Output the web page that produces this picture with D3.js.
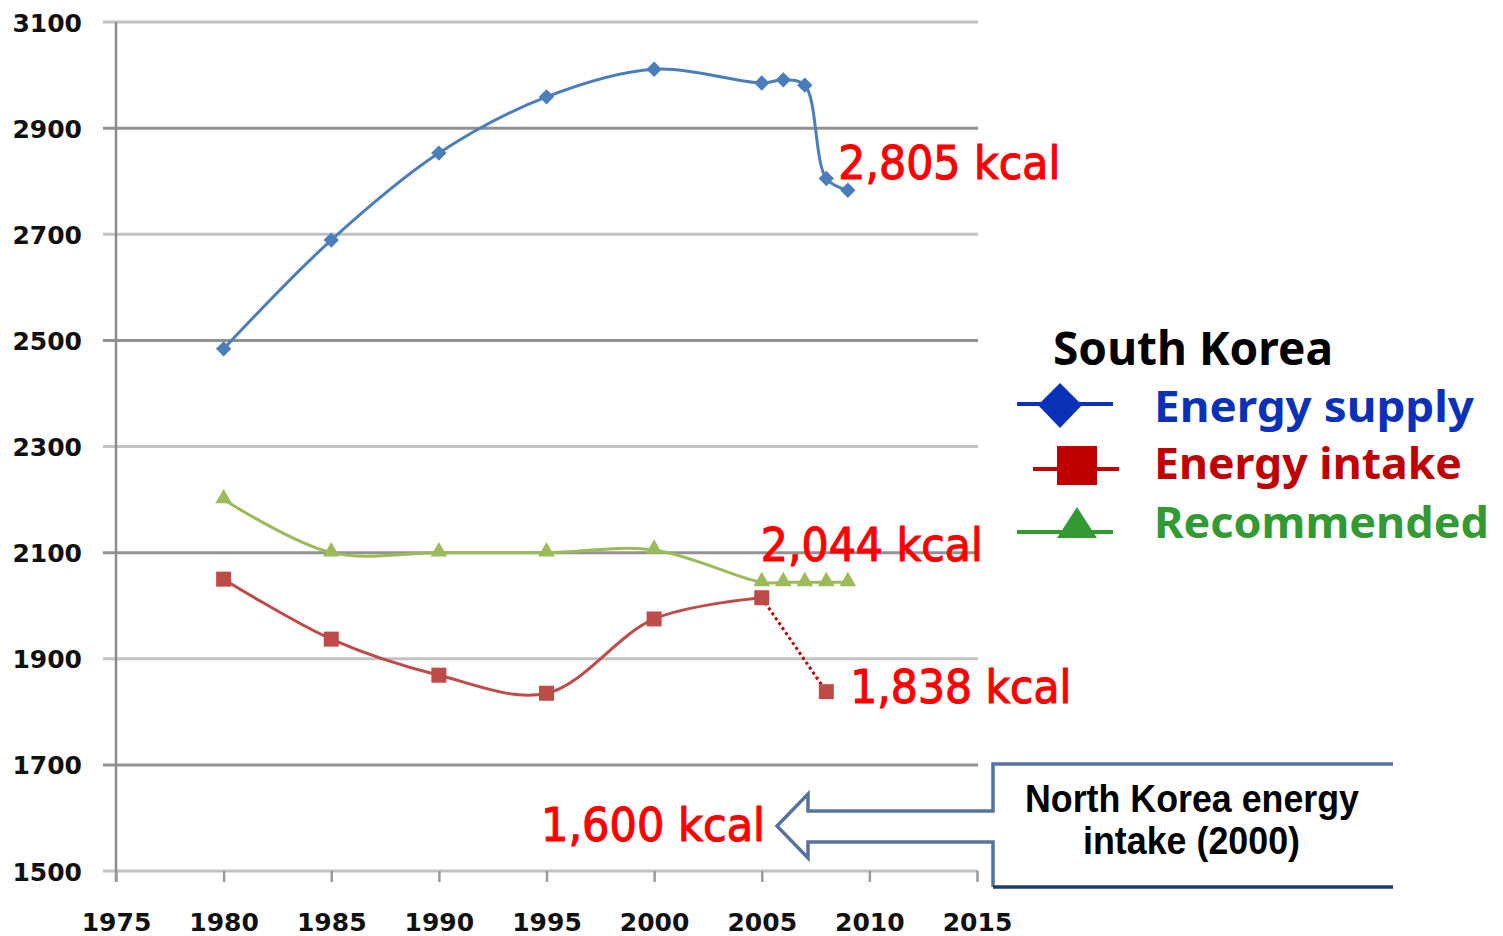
<!DOCTYPE html>
<html>
<head>
<meta charset="utf-8">
<script src="https://cdn.jsdelivr.net/npm/d3@7"></script>
<style>
  body { margin: 0; background: #fff; }
  svg { display: block; }
</style>
</head>
<body>
<div id="chart"></div>
<script>
// data
var supplyYears  = [1980, 1985, 1990, 1995, 2000, 2005, 2006, 2007, 2008, 2009];
var supplyValues = [2484, 2689, 2853, 2959, 3011, 2985, 2991, 2981, 2805, 2783];

var intakeYears  = [1980, 1985, 1990, 1995, 2000, 2005];
var intakeValues = [2050, 1937, 1869, 1835, 1975, 2015];
// dotted estimate segment
var intakeEstYears  = [2005, 2008];
var intakeEstValues = [2015, 1838];

var recYears  = [1980, 1985, 1990, 1995, 2000, 2005, 2006, 2007, 2008, 2009];
var recValues = [2200, 2100, 2100, 2100, 2105, 2044, 2044, 2044, 2044, 2044];

var xTicks = [1975, 1980, 1985, 1990, 1995, 2000, 2005, 2010, 2015];
var yTicks = [1500, 1700, 1900, 2100, 2300, 2500, 2700, 2900, 3100];

var legendNames = ["Energy supply", "Energy intake", "Recommended"];
var northKoreaLines = ["North Korea energy", "intake (2000)"];

// colours
var supplyColor = "#4a7ebb",
    intakeColor = "#be4b48",
    recColor = "#9bbb59";

var width = 1503, height = 936;

var svg = d3.select("#chart").append("svg")
    .attr("width", width)
    .attr("height", height);

// scales
var x = d3.scaleLinear().domain([1975, 2015]).range([116, 977]);
var y = d3.scaleLinear().domain([1500, 3100]).range([871, 22]);

// grid lines
svg.append("g")
    .selectAll("line")
    .data(yTicks)
    .enter().append("line")
    .attr("x1", 103)
    .attr("x2", 978)
    .attr("y1", function(d) { return y(d); })
    .attr("y2", function(d) { return y(d); })
    .style("stroke", function(d, i) { return i % 2 === 0 ? "#c2c2c2" : "#919191"; })
    .style("stroke-width", 3);

// y axis
var yAxis = svg.append("g")
    .attr("transform", "translate(116,0)")
    .call(d3.axisLeft(y).tickValues(yTicks).tickSize(13).tickFormat(d3.format("d")));
yAxis.select(".domain").style("stroke", "#8c8c8c").style("stroke-width", 2.5)
    .attr("d", "M0," + y(3100) + "V" + (y(1500) + 11));
yAxis.selectAll(".tick line").style("stroke", "none");
yAxis.selectAll("text")
    .attr("x", -34)
    .attr("dy", "0.36em")
    .style("font", "bold 25px 'DejaVu Sans'")
    .style("fill", "#111");

// x axis
var xAxis = svg.append("g")
    .attr("transform", "translate(0," + y(1500) + ")")
    .call(d3.axisBottom(x).tickValues(xTicks).tickSize(11).tickFormat(d3.format("d")));
xAxis.select(".domain").remove();
xAxis.selectAll(".tick line").style("stroke", "#9a9a9a").style("stroke-width", 2.5);
xAxis.selectAll("text")
    .attr("y", 51)
    .attr("dy", "0.36em")
    .style("font", "bold 25px 'DejaVu Sans'")
    .style("fill", "#111");

// lines
var line = d3.line()
    .x(function(d) { return x(d[0]); })
    .y(function(d) { return y(d[1]); })
    .curve(d3.curveCatmullRom.alpha(0.5));

var supplyData = d3.zip(supplyYears, supplyValues);
var intakeData = d3.zip(intakeYears, intakeValues);
var intakeEst = d3.zip(intakeEstYears, intakeEstValues);
var recData = d3.zip(recYears, recValues);

svg.append("path").datum(recData)
    .attr("d", line)
    .style("fill", "none").style("stroke", recColor).style("stroke-width", 3);

svg.append("path").datum(intakeData)
    .attr("d", line)
    .style("fill", "none").style("stroke", intakeColor).style("stroke-width", 3);

svg.append("path").datum(intakeEst)
    .attr("d", d3.line().x(function(d) { return x(d[0]); }).y(function(d) { return y(d[1]); }))
    .style("fill", "none").style("stroke", "#c00000").style("stroke-width", 3)
    .style("stroke-dasharray", "3,3");

svg.append("path").datum(supplyData)
    .attr("d", line)
    .style("fill", "none").style("stroke", supplyColor).style("stroke-width", 3);

// markers
svg.selectAll(".rec-pt")
    .data(recData)
    .enter().append("path")
    .attr("class", "rec-pt")
    .attr("transform", function(d) { return "translate(" + x(d[0]) + "," + (y(d[1]) - 1) + ")"; })
    .attr("d", d3.symbol().type(d3.symbolTriangle).size(120))
    .style("fill", recColor);

svg.selectAll(".intake-pt")
    .data(intakeData.concat([intakeEst[1]]))
    .enter().append("rect")
    .attr("class", "intake-pt")
    .attr("x", function(d) { return x(d[0]) - 7.5; })
    .attr("y", function(d) { return y(d[1]) - 7.5; })
    .attr("width", 15)
    .attr("height", 15)
    .style("fill", intakeColor);

svg.selectAll(".supply-pt")
    .data(supplyData)
    .enter().append("path")
    .attr("class", "supply-pt")
    .attr("transform", function(d) { return "translate(" + x(d[0]) + "," + y(d[1]) + ")"; })
    .attr("d", d3.symbol().type(d3.symbolDiamond2).size(150))
    .style("fill", supplyColor);

// red value labels
function redLabel(tx, ty, txt, len) {
    svg.append("text")
        .attr("x", tx)
        .attr("y", ty)
        .attr("textLength", len)
        .attr("lengthAdjust", "spacingAndGlyphs")
        .style("font", "46px 'DejaVu Sans'")
        .style("fill", "#ff0000")
        .style("stroke", "#ff0000")
        .style("stroke-width", 1.2)
        .text(txt);
}
redLabel(x(2008) + 12, y(supplyValues[8]), "2,805 kcal", 222);
redLabel(x(2005) - 1, y(recValues[5]) - 21, "2,044 kcal", 222);
redLabel(x(2008) + 24, y(intakeEstValues[1]) + 11, "1,838 kcal", 221);
redLabel(541, 841, "1,600 kcal", 224);

// North Korea callout
svg.append("path")
    .attr("d", "M1393,764 L993,764 L993,811 L808,811 L808,794 L777,826 L808,858 L808,842 L993,842 L993,887")
    .style("fill", "none")
    .style("stroke", "#56739b")
    .style("stroke-width", 3.5);
svg.append("line")
    .attr("x1", 993).attr("x2", 1393)
    .attr("y1", 887).attr("y2", 887)
    .style("stroke", "#1f3d6b")
    .style("stroke-width", 3.5);

svg.selectAll(".nk-text")
    .data(northKoreaLines)
    .enter().append("text")
    .attr("class", "nk-text")
    .attr("x", function(d, i) { return i === 0 ? 1025 : 1083; })
    .attr("y", function(d, i) { return i === 0 ? 812 : 854; })
    .attr("textLength", function(d, i) { return i === 0 ? 334 : 217; })
    .attr("lengthAdjust", "spacingAndGlyphs")
    .style("font", "bold 38px 'Liberation Sans'")
    .style("fill", "#000")
    .text(function(d) { return d; });

// legend
var legend = svg.append("g");

legend.append("text")
    .attr("x", 1053)
    .attr("y", 365)
    .attr("textLength", 280)
    .attr("lengthAdjust", "spacingAndGlyphs")
    .style("font", "bold 47px 'Noto Sans'")
    .style("fill", "#000")
    .text("South Korea");

var legendColors = ["#0b31b8", "#c00000", "#339933"];
var legendLineY = [404, 469, 532];
var legendTextY = [422, 479, 538];
var legendTextLen = [320, 308, 335];

legend.selectAll(".leg-line")
    .data(legendNames)
    .enter().append("line")
    .attr("class", "leg-line")
    .attr("x1", function(d, i) { return i === 1 ? 1033 : 1017; })
    .attr("x2", function(d, i) { return i === 1 ? 1119 : 1113; })
    .attr("y1", function(d, i) { return legendLineY[i]; })
    .attr("y2", function(d, i) { return legendLineY[i]; })
    .style("stroke", function(d, i) { return legendColors[i]; })
    .style("stroke-width", 4);

// diamond
legend.append("path")
    .attr("d", "M1060,383 L1082,405 L1060,428 L1038,405 Z")
    .style("fill", legendColors[0]);
// square
legend.append("rect")
    .attr("x", 1057).attr("y", 446)
    .attr("width", 40).attr("height", 39)
    .style("fill", legendColors[1]);
// triangle
legend.append("path")
    .attr("d", "M1077,507 L1097,538 L1057,538 Z")
    .style("fill", legendColors[2]);

legend.selectAll(".leg-text")
    .data(legendNames)
    .enter().append("text")
    .attr("class", "leg-text")
    .attr("x", 1154)
    .attr("y", function(d, i) { return legendTextY[i]; })
    .attr("textLength", function(d, i) { return legendTextLen[i]; })
    .attr("lengthAdjust", "spacingAndGlyphs")
    .style("font", "bold 43px 'Noto Sans'")
    .style("fill", function(d, i) { return legendColors[i]; })
    .text(function(d) { return d; });
</script>
</body>
</html>
